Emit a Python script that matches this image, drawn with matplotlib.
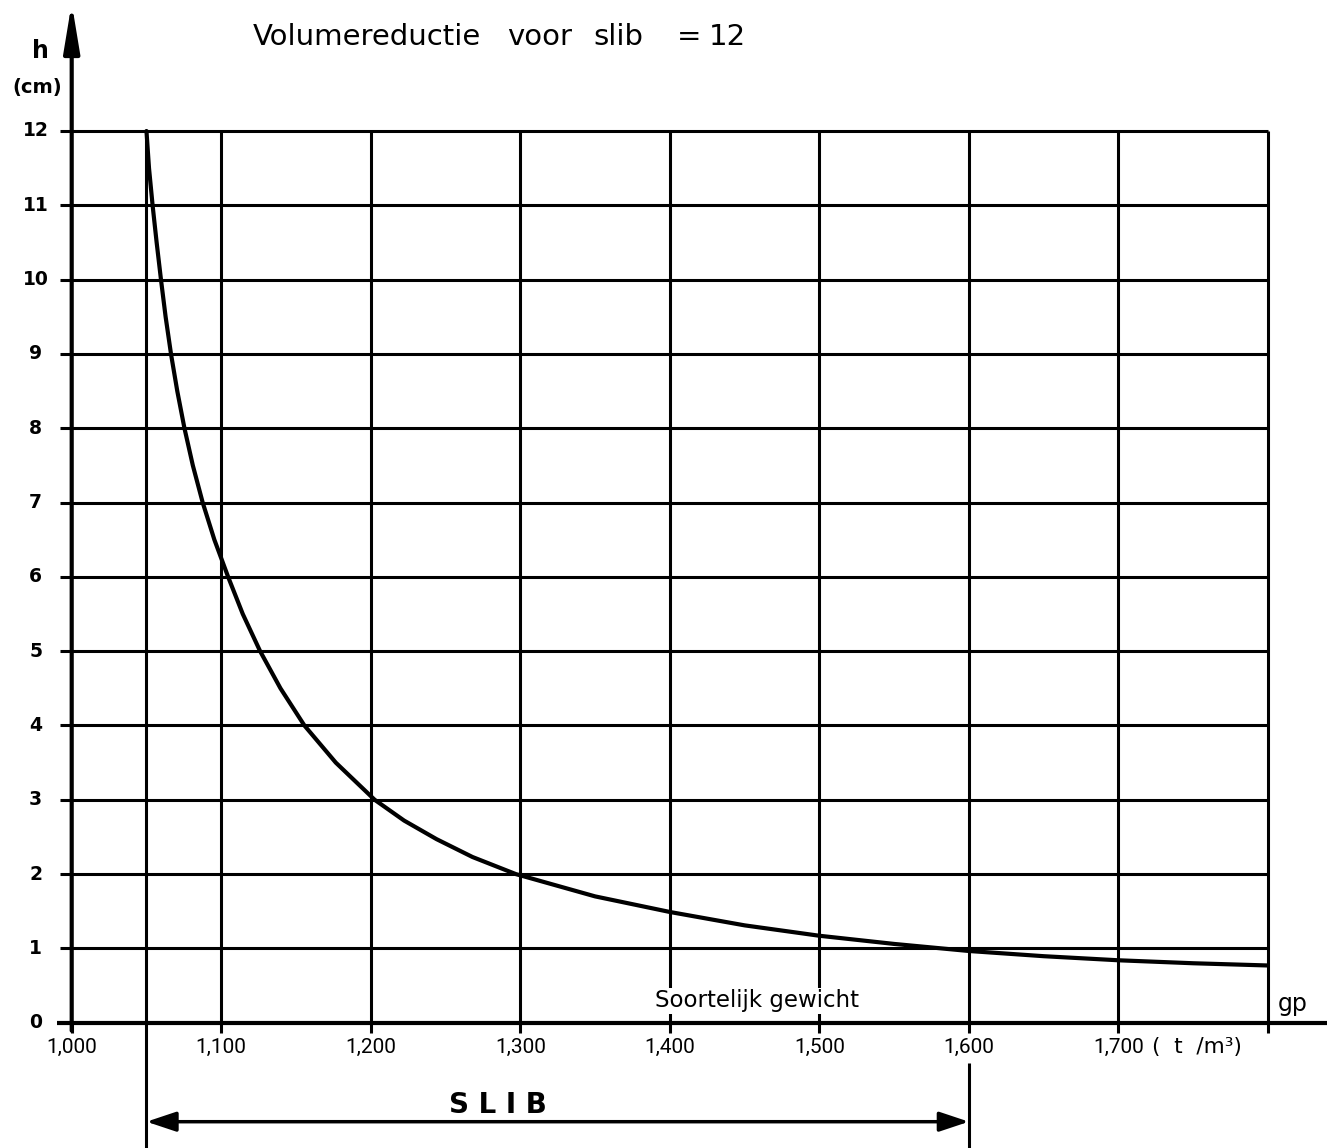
import matplotlib
matplotlib.use("Agg")
import matplotlib.pyplot as plt

# Layer height h (cm) as a function of specific weight gp (t/m3)
gp = [1.0500, 1.0517, 1.0541, 1.0568, 1.0597, 1.0628, 1.0664, 1.0706, 1.0754,
      1.0810, 1.0876, 1.0954, 1.1046, 1.1144, 1.1260, 1.1396, 1.1556, 1.1766,
      1.2026, 1.2223, 1.2440, 1.2680, 1.2970, 1.3500, 1.4000, 1.4500, 1.5000,
      1.5500, 1.6000, 1.6500, 1.7000, 1.7500, 1.8000]
h = [12.0, 11.5, 11.0, 10.5, 10.0, 9.5, 9.0, 8.5, 8.0,
     7.5, 7.0, 6.5, 6.0, 5.5, 5.0, 4.5, 4.0, 3.5,
     3.0, 2.72, 2.47, 2.23, 2.0, 1.70, 1.49, 1.31, 1.17,
     1.06, 0.965, 0.895, 0.84, 0.80, 0.77]

x_gridlines = [1.05, 1.10, 1.20, 1.30, 1.40, 1.50, 1.60, 1.70, 1.80]
x_ticks = [1.0, 1.1, 1.2, 1.3, 1.4, 1.5, 1.6, 1.7, 1.8]
x_ticklabels = ["1,000", "1,100", "1,200", "1,300", "1,400", "1,500", "1,600", "1,700"]
y_ticks = list(range(0, 13))
slib_range = [1.05, 1.60]

title_words = ["Volumereductie", "voor", "slib", "=", "12"]
title_x_px = [253, 507, 593, 677, 709]

W, H = 1327, 1148
fig = plt.figure(figsize=(W / 100, H / 100), dpi=100)
fig.patch.set_facecolor("white")

x0_px, x1_px = 71.7, 1268.0
y0_px, y1_px = 1022.7, 131.0
ax = fig.add_axes([x0_px / W, 1 - y0_px / H, (x1_px - x0_px) / W, (y0_px - y1_px) / H])
ax.set_xlim(1.0, 1.8)
ax.set_ylim(0, 12)
ax.axis("off")

dx = 0.8 / (x1_px - x0_px)   # data units per pixel, horizontal
dy = 12.0 / (y0_px - y1_px)  # data units per pixel, vertical

ink = "black"
grid_lw = 2.2

def fig_xy(px, py):
    return px / W, 1 - py / H

# grid
ax.hlines(y_ticks[1:], 1.0 - 12 * dx, 1.8, color=ink, lw=grid_lw, clip_on=False, zorder=1)
ax.vlines(x_gridlines, 0, 12, color=ink, lw=grid_lw, clip_on=False, zorder=1)

# x axis with ticks below it
ax.plot([1.0 - 15 * dx, 1.0 + 1260 * dx], [0, 0], color=ink, lw=3.0,
        clip_on=False, solid_capstyle="butt", zorder=4)
ax.vlines(x_ticks, -10 * dy, 0, color=ink, lw=grid_lw, clip_on=False, zorder=4)

# y axis with arrow head
ax.annotate("", xy=(1.0, 12 + 128 * dy), xytext=(1.0, -8 * dy),
            xycoords="data", textcoords="data", annotation_clip=False,
            arrowprops=dict(arrowstyle="-|>,head_length=1.45,head_width=0.24",
                            color=ink, lw=3.0, shrinkA=0, shrinkB=0,
                            mutation_scale=20), zorder=4)

# tick labels
for xv, lab in zip(x_ticks, x_ticklabels):
    ax.text(xv, -25 * dy, lab, ha="center", va="center", fontsize=15,
            family=["Roboto", "DejaVu Sans"], color=ink, clip_on=False)
fx, fy = fig_xy(1152, 1047)
fig.text(fx, fy, "(  t  /m³)", ha="left", va="center", fontsize=15.5, color=ink)

for yv in y_ticks:
    ax.text(1.0 - 36 * dx, yv, str(yv), ha="center", va="center",
            fontsize=13.5, fontweight="bold", color=ink, clip_on=False)

# curve
ax.plot(gp, h, color=ink, lw=3.0, solid_joinstyle="round",
        solid_capstyle="round", zorder=3, clip_on=False)

# SLIB range below the axis
bottom = -(H - y0_px) * dy
ax.vlines(slib_range[0], bottom, 0, color=ink, lw=grid_lw, clip_on=False)
ax.vlines(slib_range[1], bottom, -40 * dy, color=ink, lw=grid_lw, clip_on=False)
arrow_y = -99 * dy
ax.annotate("", xy=(slib_range[0], arrow_y), xytext=(slib_range[1], arrow_y),
            annotation_clip=False,
            arrowprops=dict(arrowstyle="<|-|>,head_length=0.9,head_width=0.3",
                            color=ink, lw=2.5, shrinkA=0, shrinkB=0,
                            mutation_scale=20))
ax.text(sum(slib_range) / 2 - 60 * dx, arrow_y + 17 * dy, "S L I B",
        ha="center", va="center", fontsize=20, fontweight="bold",
        color=ink, clip_on=False)

# axis captions
ax.text(1.0 + 685 * dx, 22 * dy, "Soortelijk gewicht", ha="center", va="center",
        fontsize=16.5, color=ink, zorder=2,
        bbox=dict(facecolor="white", edgecolor="none", pad=1.0))
fx, fy = fig_xy(1293, 1004)
fig.text(fx, fy, "gp", ha="center", va="center", fontsize=17, color=ink)

fx, fy = fig_xy(40, 51)
fig.text(fx, fy, "h", ha="center", va="center", fontsize=17, fontweight="bold", color=ink)
fx, fy = fig_xy(37, 88)
fig.text(fx, fy, "(cm)", ha="center", va="center", fontsize=14, fontweight="bold", color=ink)

# title
for word, xp in zip(title_words, title_x_px):
    fx, fy = fig_xy(xp, 45)
    fig.text(fx, fy, word, ha="left", va="baseline", fontsize=21, color=ink)

fig.savefig("out.png", dpi=100, facecolor="white")
